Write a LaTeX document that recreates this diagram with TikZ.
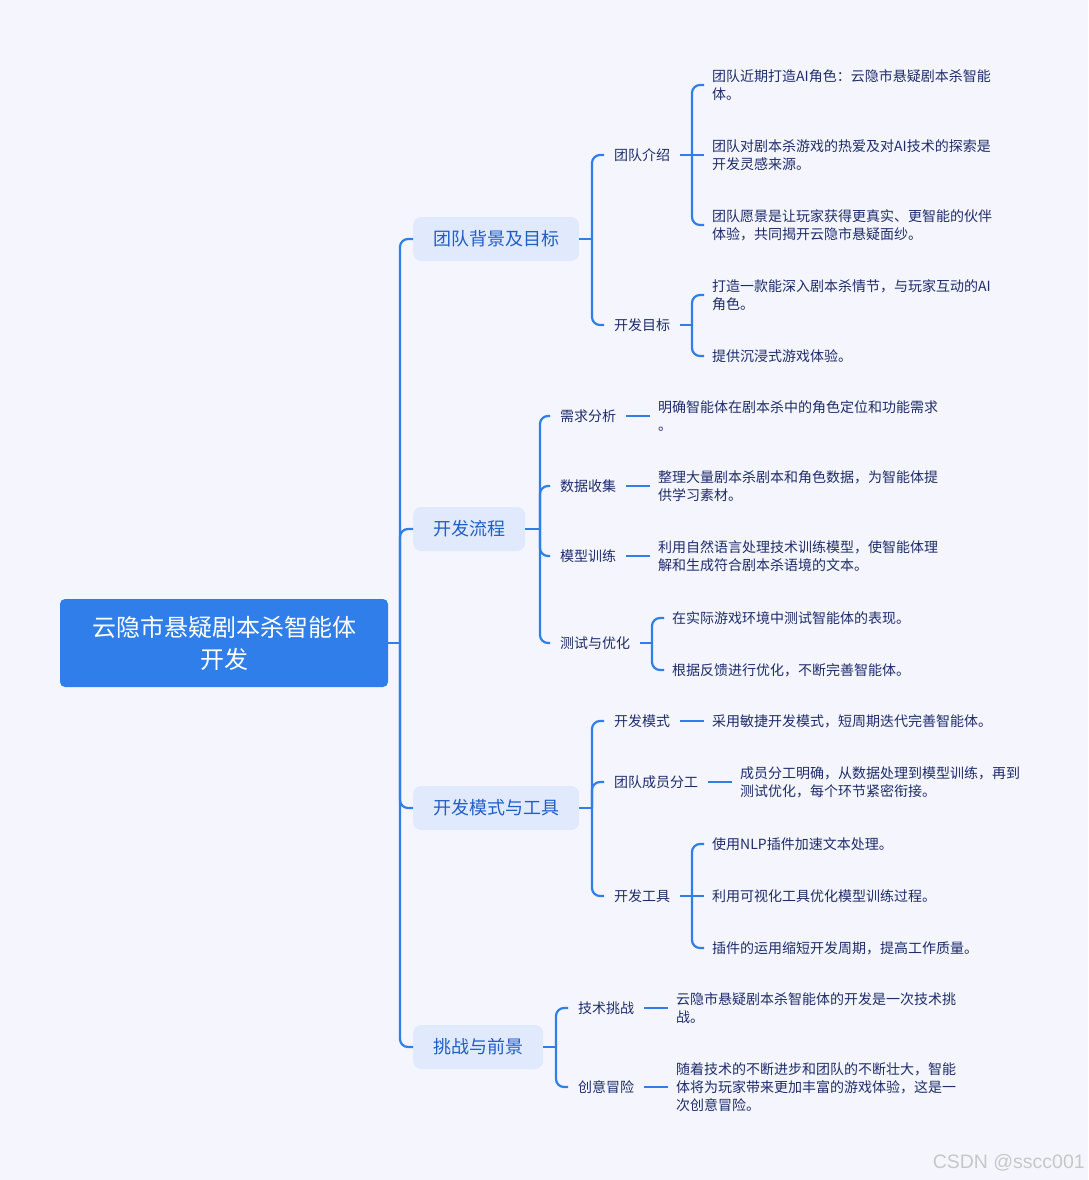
\documentclass[tikz,border=0pt]{standalone}
\usepackage{fontspec}
\setmainfont{Noto Sans CJK SC}
\newfontfamily\markfont{Liberation Sans}
\usetikzlibrary{positioning}
\definecolor{mapbg}{HTML}{F5F6FD}
\definecolor{mapblue}{HTML}{2F7EEA}
\definecolor{topicfill}{HTML}{E1E9FD}
\definecolor{topictext}{HTML}{1F5FC8}
\definecolor{leaftext}{HTML}{1E2C6C}

\begin{document}
\begin{tikzpicture}[x=1pt, y=-1pt,
        rootbox/.style={fill=mapblue, rounded corners=5pt, minimum width=328pt, minimum height=88pt, align=center, text=white, font=\fontsize{24}{32}\selectfont},
        topicbox/.style={fill=topicfill, rounded corners=8pt, minimum height=44pt, inner xsep=20pt, anchor=west, text=topictext, font=\fontsize{18}{22}\selectfont},
        subtopic/.style={anchor=west, inner xsep=10pt, inner ysep=0pt, text=leaftext, font=\fontsize{14}{18}\selectfont},
        leaf/.style={anchor=west, inner xsep=8pt, inner ysep=0pt, align=left, text=leaftext, font=\fontsize{14}{18}\selectfont},
        link/.style={draw=mapblue, line width=2.2pt},
        curvelink/.style={link, rounded corners=8pt},
    ]
        \fill[mapbg] (0,0) rectangle (1088,1180);
        \useasboundingbox (0,0) rectangle (1088,1180);

        \node[rootbox] (root) at (224,643) {云隐市悬疑剧本杀智能体\\开发};
        \node[topicbox] (bg) at (413,239) {团队背景及目标};
        \node[topicbox] (flow) at (413,529) {开发流程};
        \node[topicbox] (mode) at (413,808) {开发模式与工具};
        \node[topicbox] (chal) at (413,1047) {挑战与前景};

        \node[subtopic] (team) at (604,155) {团队介绍};
        \node[subtopic] (goal) at (604,325) {开发目标};
        \node[subtopic] (need) at (550,416) {需求分析};
        \node[subtopic] (data) at (550,486) {数据收集};
        \node[subtopic] (train) at (550,556) {模型训练};
        \node[subtopic] (test) at (550,643) {测试与优化};
        \node[subtopic] (agile) at (604,721) {开发模式};
        \node[subtopic] (role) at (604,782) {团队成员分工};
        \node[subtopic] (tools) at (604,896) {开发工具};
        \node[subtopic] (tech) at (568,1008) {技术挑战};
        \node[subtopic] (idea) at (568,1087) {创意冒险};

        \node[leaf] (team1) at (704,85) {团队近期打造AI角色：云隐市悬疑剧本杀智能\\体。};
        \node[leaf] (team2) at (704,155) {团队对剧本杀游戏的热爱及对AI技术的探索是\\开发灵感来源。};
        \node[leaf] (team3) at (704,225) {团队愿景是让玩家获得更真实、更智能的伙伴\\体验，共同揭开云隐市悬疑面纱。};
        \node[leaf] (goal1) at (704,295) {打造一款能深入剧本杀情节，与玩家互动的AI\\角色。};
        \node[leaf] (goal2) at (704,356) {提供沉浸式游戏体验。};
        \node[leaf] (need1) at (650,416) {明确智能体在剧本杀中的角色定位和功能需求\\。};
        \node[leaf] (data1) at (650,486) {整理大量剧本杀剧本和角色数据，为智能体提\\供学习素材。};
        \node[leaf] (train1) at (650,556) {利用自然语言处理技术训练模型，使智能体理\\解和生成符合剧本杀语境的文本。};
        \node[leaf] (test1) at (664,618) {在实际游戏环境中测试智能体的表现。};
        \node[leaf] (test2) at (664,670) {根据反馈进行优化，不断完善智能体。};
        \node[leaf] (agile1) at (704,721) {采用敏捷开发模式，短周期迭代完善智能体。};
        \node[leaf] (role1) at (732,782) {成员分工明确，从数据处理到模型训练，再到\\测试优化，每个环节紧密衔接。};
        \node[leaf] (tools1) at (704,844) {使用NLP插件加速文本处理。};
        \node[leaf] (tools2) at (704,896) {利用可视化工具优化模型训练过程。};
        \node[leaf] (tools3) at (704,948) {插件的运用缩短开发周期，提高工作质量。};
        \node[leaf] (tech1) at (668,1008) {云隐市悬疑剧本杀智能体的开发是一次技术挑\\战。};
        \node[leaf] (idea1) at (668,1087) {随着技术的不断进步和团队的不断壮大，智能\\体将为玩家带来更加丰富的游戏体验，这是一\\次创意冒险。};

        % Junctions
        \coordinate (rootj) at (400,643);
        \coordinate (bgj) at (592,239);
        \coordinate (flowj) at (540,529);
        \coordinate (modej) at (592,808);
        \coordinate (chalj) at (556,1047);
        \coordinate (teamj) at (692,155);
        \coordinate (goalj) at (692,325);
        \coordinate (testj) at (652,643);
        \coordinate (toolsj) at (692,896);

        % Spine
        \draw[link] (root.east) -- (rootj);
        \draw[curvelink] (rootj) |- (bg.west);
        \draw[curvelink] (rootj) |- (flow.west);
        \draw[curvelink] (rootj) |- (mode.west);
        \draw[curvelink] (rootj) |- (chal.west);

        % Topic branches
        \draw[link] (bg.east) -- (bgj);
        \draw[curvelink] (bgj) |- (team.west);
        \draw[curvelink] (bgj) |- (goal.west);
        \draw[link] (flow.east) -- (flowj);
        \draw[curvelink] (flowj) |- (need.west);
        \draw[curvelink] (flowj) |- (data.west);
        \draw[curvelink] (flowj) |- (train.west);
        \draw[curvelink] (flowj) |- (test.west);
        \draw[link] (mode.east) -- (modej);
        \draw[curvelink] (modej) |- (agile.west);
        \draw[curvelink] (modej) |- (role.west);
        \draw[curvelink] (modej) |- (tools.west);
        \draw[link] (chal.east) -- (chalj);
        \draw[curvelink] (chalj) |- (tech.west);
        \draw[curvelink] (chalj) |- (idea.west);

        % Leaf branches
        \draw[link] (team.east) -- (teamj);
        \draw[curvelink] (teamj) |- (team1.west);
        \draw[link] (teamj) -- (team2.west);
        \draw[curvelink] (teamj) |- (team3.west);
        \draw[link] (goal.east) -- (goalj);
        \draw[curvelink] (goalj) |- (goal1.west);
        \draw[curvelink] (goalj) |- (goal2.west);
        \draw[link] (need.east) -- (need1.west);
        \draw[link] (data.east) -- (data1.west);
        \draw[link] (train.east) -- (train1.west);
        \draw[link] (test.east) -- (testj);
        \draw[curvelink] (testj) |- (test1.west);
        \draw[curvelink] (testj) |- (test2.west);
        \draw[link] (agile.east) -- (agile1.west);
        \draw[link] (role.east) -- (role1.west);
        \draw[link] (tools.east) -- (toolsj);
        \draw[curvelink] (toolsj) |- (tools1.west);
        \draw[link] (toolsj) -- (tools2.west);
        \draw[curvelink] (toolsj) |- (tools3.west);
        \draw[link] (tech.east) -- (tech1.west);
        \draw[link] (idea.east) -- (idea1.west);

        \node[anchor=east, inner sep=0pt, text=black!22, font=\markfont\fontsize{19.5}{22}\selectfont] (mark) at (1085,1163) {CSDN @sscc001};
    \end{tikzpicture}
\end{document}
